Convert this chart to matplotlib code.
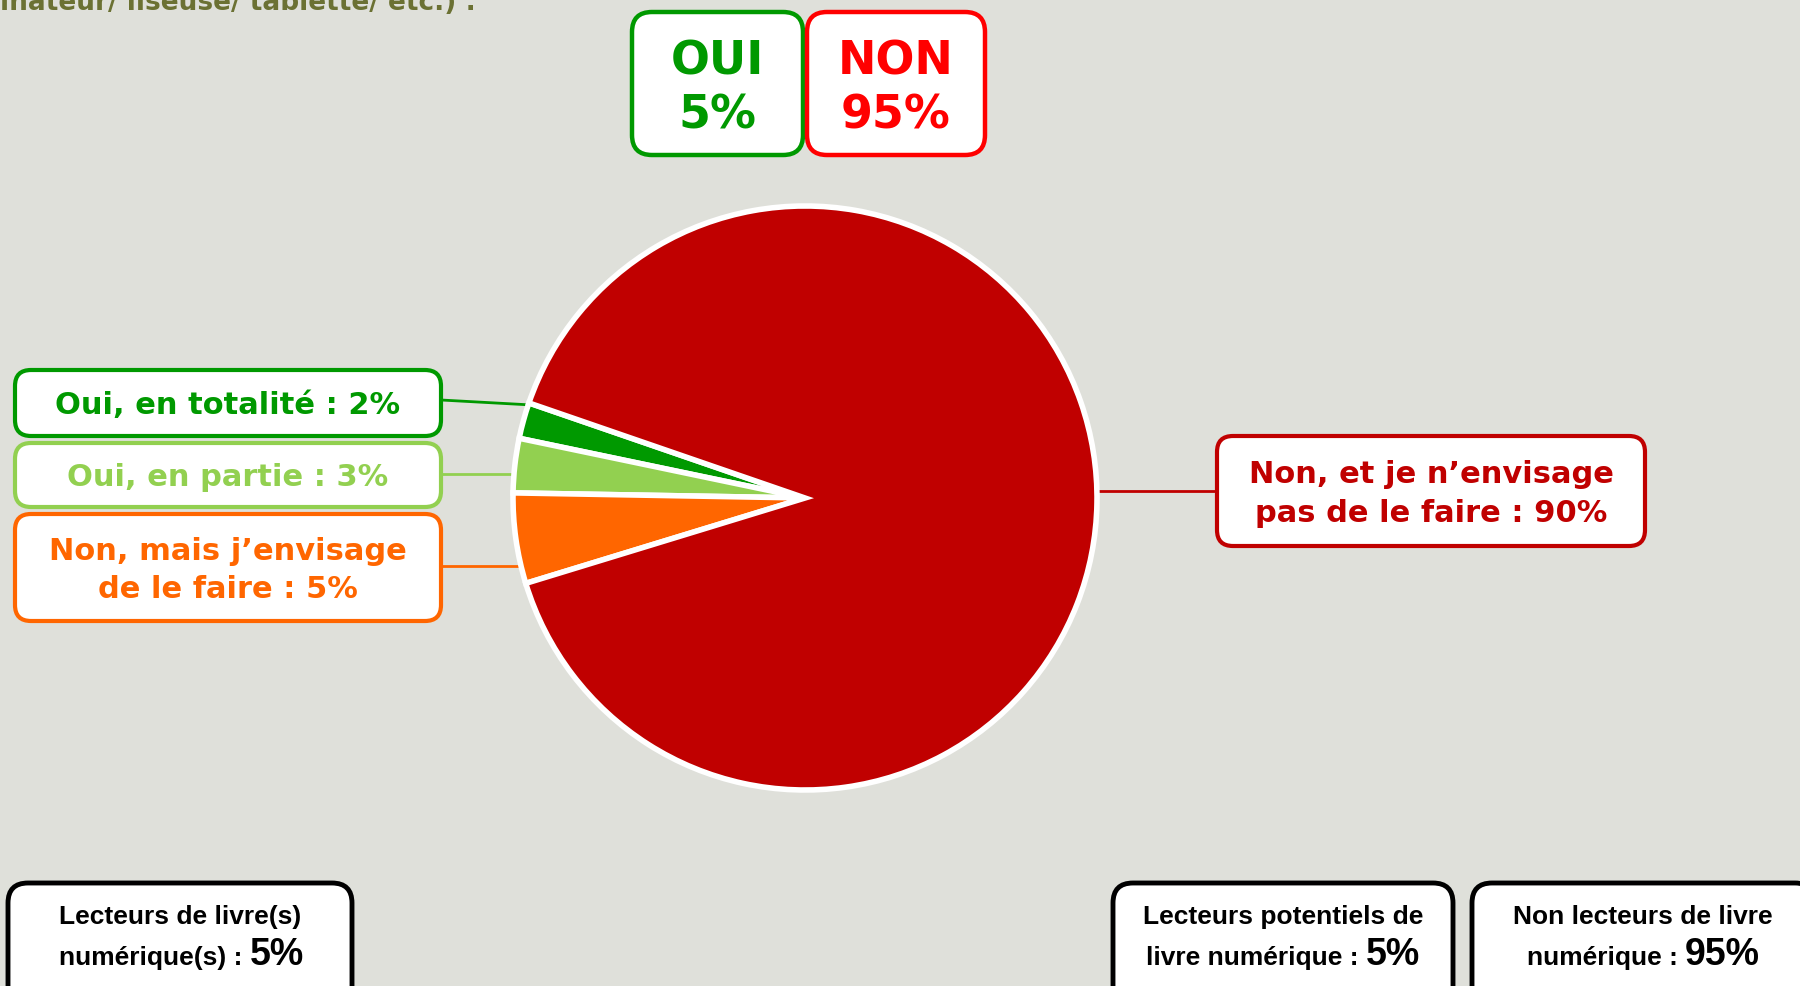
import matplotlib.pyplot as plt
from matplotlib.patches import FancyBboxPatch

# data
categories = ['Oui, en totalité', 'Oui, en partie',
              'Non, mais j\u2019envisage\nde le faire',
              'Non, et je n\u2019envisage\npas de le faire']
values = [2, 3, 5, 90]
colors = ['#009900', '#92D050', '#FF6600', '#C00000']

yes_no = ['OUI', 'NON']
yes_no_pct = [5, 95]
yes_no_colors = ['#009900', '#FF0000']

summary = ['Lecteurs de livre(s)\nnumérique(s) : ',
           'Lecteurs potentiels de\nlivre numérique : ',
           'Non lecteurs de livre\nnumérique : ']
summary_pct = [5, 5, 95]

title = '(ordinateur/ liseuse/ tablette/ etc.) :'

bg = '#DFE0DA'
W, H = 1800, 987

fig = plt.figure(figsize=(18, 9.87), dpi=100, facecolor=bg)

# overlay axes in pixel coordinates (y down)
ax = fig.add_axes([0, 0, 1, 1])
ax.set_xlim(0, W)
ax.set_ylim(H, 0)
ax.axis('off')

# pie axes
cx, cy, r = 805, 499, 292
pax = fig.add_axes([(cx - r) / W, (H - cy - r) / H, 2 * r / W, 2 * r / H])
pax.pie(values, colors=colors, startangle=161, counterclock=True,
        wedgeprops=dict(edgecolor='white', linewidth=4))
pax.set_xlim(-1.0, 1.0)
pax.set_ylim(-1.0, 1.0)
pax.axis('off')


def box(x0, y0, x1, y1, ec, lw=3, rs=16):
    ax.add_patch(FancyBboxPatch((x0, y0), x1 - x0, y1 - y0,
                                boxstyle='round,pad=0,rounding_size=%d' % rs,
                                fc='white', ec=ec, lw=lw, zorder=3))


# title (cut off at the top, as in the original slide)
ax.text(476, 10, title, ha='right', va='baseline', fontsize=19,
        fontweight='bold', color='#6B7133', family='DejaVu Sans')

# OUI / NON boxes
for i, (lab, pct) in enumerate(zip(yes_no, yes_no_pct)):
    x0 = [632, 807][i]
    x1 = [803, 985][i]
    box(x0, 13, x1, 156, yes_no_colors[i], lw=3.2, rs=20)
    ax.text((x0 + x1) / 2, 89, '%s\n%d%%' % (lab, pct), ha='center', va='center',
            fontsize=33, fontweight='bold', color=yes_no_colors[i],
            linespacing=1.28, zorder=4)

# category labels
boxes = [(15, 371, 441, 437), (15, 444, 441, 508), (15, 515, 441, 622),
         (1217, 437, 1645, 547)]
lines = [((441, 401), (532, 406)), ((441, 475), (518, 475)),
         ((441, 567), (520, 567)), ((1095, 492), (1217, 492))]
for cat, val, col, b, ln in zip(categories, values, colors, boxes, lines):
    ax.plot([ln[0][0], ln[1][0]], [ln[0][1], ln[1][1]], color=col, lw=2, zorder=2)
    box(*b, col, lw=3)
    ax.text((b[0] + b[2]) / 2, (b[1] + b[3]) / 2 + 2, '%s : %d%%' % (cat, val),
            ha='center', va='center', fontsize=22, fontweight='bold', color=col,
            linespacing=1.4, zorder=4)

# summary boxes at the bottom
sboxes = [(8, 884, 352, 1010), (1113, 884, 1453, 1010), (1472, 884, 1815, 1010)]
centers = [180, 1283, 1643]
splits = [250, 1366, 1685]
for lab, pct, b, xc, sx in zip(summary, summary_pct, sboxes, centers, splits):
    box(*b, 'black', lw=3.5, rs=20)
    l1, l2 = lab.split('\n')
    ax.text(xc, 924, l1, ha='center', va='baseline', fontsize=19,
            fontweight='bold', family='Liberation Sans', zorder=4)
    ax.text(sx, 965, l2, ha='right', va='baseline', fontsize=19,
            fontweight='bold', family='Liberation Sans', zorder=4)
    ax.text(sx, 965, '%d%%' % pct, ha='left', va='baseline', fontsize=27,
            fontweight='bold', family='Liberation Sans', zorder=4)

fig.savefig('out.png', dpi=100, facecolor=bg)
